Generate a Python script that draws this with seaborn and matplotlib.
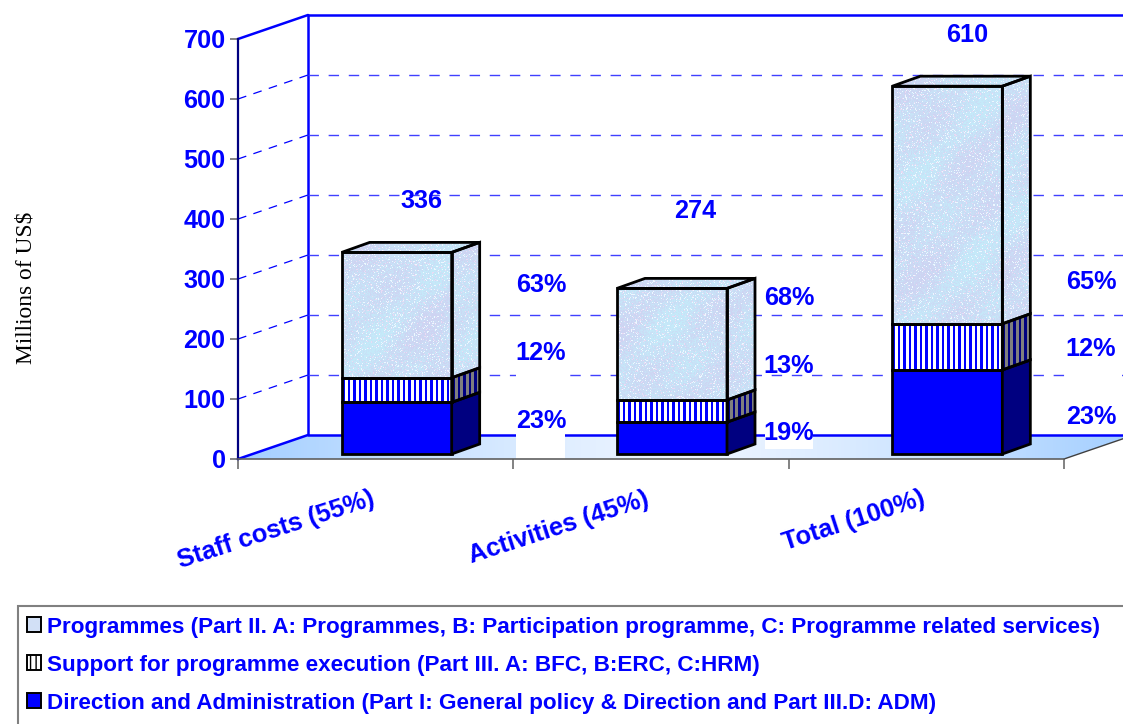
import numpy as np
import pandas as pd
import seaborn as sns
import matplotlib.pyplot as plt
from matplotlib.patches import Patch, Polygon, Rectangle
from matplotlib.transforms import ScaledTranslation

categories = ["Staff costs (55%)", "Activities (45%)", "Total (100%)"]
direction = [86, 53, 140]
support = [41, 37, 77]
programmes = [209, 186, 396]
totals = [336, 274, 610]
pct_programmes = ["63%", "68%", "65%"]
pct_support = ["12%", "13%", "12%"]
pct_direction = ["23%", "19%", "23%"]
y_ticks = [0, 100, 200, 300, 400, 500, 600, 700]
legend_labels = [
    "Programmes (Part II. A: Programmes, B: Participation programme, C: Programme related services)",
    "Support for programme execution (Part III. A: BFC, B:ERC, C:HRM)",
    "Direction and Administration (Part I: General policy & Direction and Part III.D: ADM)",
]

W, H = 1123, 724
BLUE = "#0000FF"
NAVY = "#000080"
FONT = "Liberation Sans"

# plot area in pixels, the rest of the 3d box is worked out from it
LEFT, RIGHT, BASE, TOP = 238, 1064, 459, 39
px_cat = (RIGHT - LEFT) / 3
px_val = (BASE - TOP) / 700
wall_dx, wall_dy = 70 / px_cat, 24 / px_val
bar_dx, bar_dy = 28 / px_cat, 10 / px_val
shift_x, shift_y = 21 / px_cat, 5 / px_val


def to_x(px):
    return (px - LEFT) / px_cat - 0.5


def to_y(py):
    return (BASE - py) / px_val


def mottled(h, w, seed=0.0):
    # pale blue / lilac speckle, no random numbers, just a hash of the pixel position
    yy, xx = np.mgrid[0:h, 0:w].astype(float)
    slow = np.sin(xx / 19 + seed) * np.cos(yy / 27 - seed) + 0.6 * np.sin((xx + yy) / 11 + 2 * seed)
    slow = (slow + 1.6) / 3.2
    grain = np.sin(xx * 12.9898 + yy * 78.233 + seed) * 43758.5453
    grain = grain - np.floor(grain)
    cyan = np.array([0.77, 0.92, 0.98])
    lilac = np.array([0.81, 0.83, 0.95])
    pink = np.array([0.92, 0.86, 0.96])
    mix = np.clip(slow + (grain - 0.5) * 0.9, 0, 1)[..., None]
    img = cyan * (1 - mix) + lilac * mix
    img = np.where(grain[..., None] > 0.95, pink, img)
    img = np.where(grain[..., None] < 0.08, np.array([0.93, 0.97, 1.0]), img)
    return np.clip(img, 0, 1)


def stripes(w, one, two):
    img = np.zeros((1, w, 3))
    for i in range(w):
        img[0, i] = one if (i % 5.5) < 2.5 else two
    return img


def paint(patch, img, z):
    # image clipped to the patch, outline of the patch stays on top
    if isinstance(patch, Polygon):
        x0, y0 = patch.get_path().vertices.min(axis=0)
        x1, y1 = patch.get_path().vertices.max(axis=0)
    else:
        x0, y0 = patch.get_x(), patch.get_y()
        x1, y1 = x0 + patch.get_width(), y0 + patch.get_height()
    im = ax.imshow(img, extent=(x0, x1, y0, y1), aspect="auto", zorder=z, interpolation="nearest")
    im.set_clip_box(fig.bbox)
    im.set_clip_path(patch)


sns.set_style("white")
plt.rcParams["font.family"] = [FONT, "DejaVu Sans"]

fig, ax = plt.subplots(figsize=(W / 100, H / 100), dpi=100)
ax.set_position([LEFT / W, (H - BASE) / H, (RIGHT - LEFT) / W, (BASE - TOP) / H])

# walls and floor
ax.plot([-0.5, -0.5 + wall_dx], [700, 700 + wall_dy], color=BLUE, lw=1.8, clip_on=False, zorder=1)
ax.plot([-0.5 + wall_dx] * 2, [wall_dy, 700 + wall_dy], color=BLUE, lw=1.8, clip_on=False, zorder=1)
ax.plot([-0.5 + wall_dx, 3.2], [700 + wall_dy] * 2, color=BLUE, lw=1.8, clip_on=False, zorder=1)
for t in y_ticks[1:-1]:
    ax.plot([-0.5, -0.5 + wall_dx], [t, t + wall_dy], color=BLUE, lw=0.9, dashes=(7, 6), clip_on=False, zorder=1)
    ax.plot([-0.5 + wall_dx, 3.2], [t + wall_dy] * 2, color="#4040FF", lw=1.0, dashes=(7.5, 7), clip_on=False, zorder=1)

floor = Polygon([(-0.5, 0), (-0.5 + wall_dx, wall_dy), (2.5 + wall_dx, wall_dy), (2.5, 0)],
                closed=True, facecolor="none", edgecolor="none", clip_on=False, zorder=1)
ax.add_patch(floor)
t = np.linspace(-1, 1, 300)
edge_col, mid_col = np.array([0.64, 0.81, 1.0]), np.array([0.93, 0.96, 1.0])
weight = np.abs(t)[None, :, None] ** 1.3
floor_img = mid_col * (1 - weight) + edge_col * weight
paint(floor, floor_img, 1)
ax.plot([-0.5, -0.5 + wall_dx], [0, wall_dy], color=BLUE, lw=1.8, clip_on=False, zorder=1.5)
ax.plot([-0.5 + wall_dx, 3.2], [wall_dy, wall_dy], color=BLUE, lw=1.8, clip_on=False, zorder=1.5)
ax.plot([2.5, 2.5 + wall_dx], [0, wall_dy], color="#404040", lw=1.0, clip_on=False, zorder=1.5)

# white boxes that sit behind the percent labels
for x0, x1, y0, y1 in [(516, 565, 378, 338), (516, 565, 460, 406), (765, 813, 449, 420), (1066, 1122, 378, 338)]:
    ax.add_patch(Rectangle((to_x(x0), to_y(y0)), to_x(x1) - to_x(x0), to_y(y1) - to_y(y0),
                           facecolor="white", edgecolor="none", zorder=2, clip_on=False))

# stacked bars
df = pd.DataFrame({"cat": categories, "direction": direction, "support": support, "programmes": programmes})
bottom = np.zeros(3)
for name, col in [("direction", BLUE), ("support", "white"), ("programmes", "none")]:
    sns.barplot(data=df, x="cat", y=name, color=col, bottom=bottom, width=110 / px_cat, errorbar=None,
                saturation=1, edgecolor="black", linewidth=2, zorder=4, ax=ax)
    container = ax.containers[-1]
    for i, bar in enumerate(container):
        bar.set_x(bar.get_x() + shift_x)
        bar.set_y(bar.get_y() + shift_y)
        bar.set_zorder(4)
        x0, y0 = bar.get_x(), bar.get_y()
        x1, y1 = x0 + bar.get_width(), y0 + bar.get_height()
        side = Polygon([(x1, y0), (x1 + bar_dx, y0 + bar_dy), (x1 + bar_dx, y1 + bar_dy), (x1, y1)],
                       closed=True, facecolor=NAVY if name == "direction" else "none",
                       edgecolor="black", linewidth=2, zorder=4, joinstyle="miter")
        ax.add_patch(side)
        if name == "support":
            bar.set_facecolor("none")
            paint(bar, stripes(110, np.array([0, 0, 1.0]), np.array([1.0, 1, 1])), 3)
            paint(side, stripes(28, np.array([0, 0, 0.5]), np.array([0.5, 0.5, 0.5])), 3)
        if name == "programmes":
            bar.set_facecolor("none")
            h_px = int(bar.get_height() * px_val)
            paint(bar, mottled(h_px, 110, seed=i * 1.7), 3)
            paint(side, mottled(h_px + 10, 28, seed=i * 2.3), 3)
            lid = Polygon([(x0, y1), (x0 + bar_dx, y1 + bar_dy), (x1 + bar_dx, y1 + bar_dy), (x1, y1)],
                          closed=True, facecolor="none", edgecolor="black", linewidth=2, zorder=4, joinstyle="miter")
            ax.add_patch(lid)
            paint(lid, mottled(10, 138, seed=i * 3.1), 3)
    bottom = bottom + df[name].to_numpy()

# labels over the bars
total_pos = [(421, 201), (695, 211), (967, 35)]
for lab, (px, py) in zip(totals, total_pos):
    ax.text(to_x(px), to_y(py), str(lab), color=BLUE, fontsize=18.2, fontweight="bold",
            ha="center", va="center", zorder=6, clip_on=False)

pct_x = [541, 789, 1091]
pct_y = [[285, 298, 282], [353, 366, 349], [421, 433, 417]]
for row, ys in zip([pct_programmes, pct_support, pct_direction], pct_y):
    for lab, px, py in zip(row, pct_x, ys):
        ax.text(to_x(px), to_y(py), lab, color=BLUE, fontsize=18.2, fontweight="bold",
                ha="center", va="center", zorder=6, clip_on=False)

# axes
ax.set_xlim(-0.5, 2.5)
ax.set_ylim(0, 700)
ax.set_xlabel("")
ax.set_ylabel("")
sns.despine(ax=ax, top=True, right=True)
ax.spines["left"].set_color(NAVY)
ax.spines["left"].set_linewidth(1.6)
ax.spines["bottom"].set_color("#606060")
ax.spines["bottom"].set_linewidth(1.2)
ax.set_yticks(y_ticks)
ax.set_yticklabels([str(v) for v in y_ticks], color=BLUE, fontsize=18.2, fontweight="bold")
ax.tick_params(axis="y", length=6, width=1.1, color="#606060", pad=3, left=True)
ax.set_xticks([0, 1, 2])
ax.set_xticklabels(categories, color=BLUE, fontsize=18.4, fontweight="bold", rotation=18,
                   ha="right", rotation_mode="anchor")
ax.tick_params(axis="x", length=0, pad=20, bottom=True)
ax.set_xticks([-0.5, 0.5, 1.5, 2.5], minor=True)
ax.tick_params(axis="x", which="minor", length=7, width=1.1, color="#606060", bottom=True)
nudge = ScaledTranslation(-6 / 100, 0, fig.dpi_scale_trans)
for lab in ax.get_xticklabels():
    lab.set_transform(lab.get_transform() + nudge)

fig.text(26 / W, 1 - 288 / H, "Millions of US$", family="Liberation Serif", fontsize=16.8,
         rotation=90, ha="center", va="center", color="black")

# legend, box runs off the right and the bottom of the picture
fig.add_artist(Rectangle((18 / W, -0.1), 1.1, 0.1 + (H - 606) / H, transform=fig.transFigure,
                         fill=False, edgecolor="#808080", linewidth=1.5))
handles = [
    Patch(facecolor="#D2E0F6", edgecolor="black", linewidth=1.4),
    Patch(facecolor="white", edgecolor="black", linewidth=1.4, hatch="|||"),
    Patch(facecolor=BLUE, edgecolor="black", linewidth=1.4),
]
leg = fig.legend(handles, legend_labels, loc="upper left", bbox_to_anchor=(23 / W, 1 - 612 / H), frameon=False,
                 labelcolor=BLUE, prop={"family": FONT, "weight": "bold", "size": 16.2},
                 handlelength=0.62, handleheight=0.62, handletextpad=0.25, labelspacing=0.76,
                 borderpad=0.2, borderaxespad=0)

fig.savefig("out.png", dpi=100)
